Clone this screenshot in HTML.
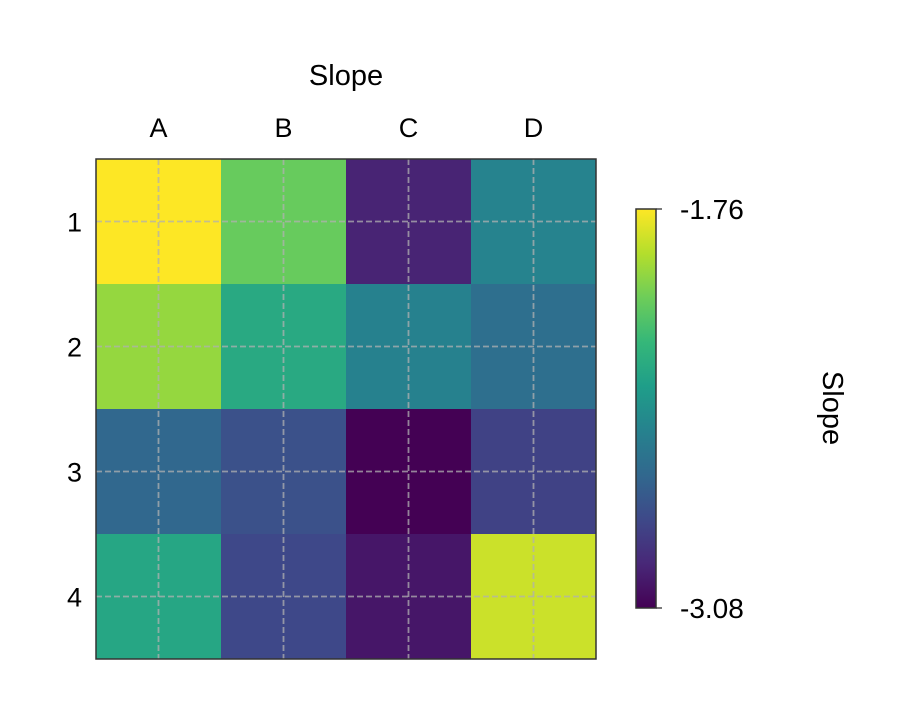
<!DOCTYPE html>
<html><head><meta charset="utf-8"><style>
body{margin:0;background:#fff;}
svg text{font-family:"Liberation Sans",sans-serif;fill:#000;}
</style></head><body>
<svg id="chart" width="910" height="719" xmlns="http://www.w3.org/2000/svg"></svg>
<script>
const cols=["A","B","C","D"];
const rows=["1","2","3","4"];
const values=[
 [-1.76,-2.07,-2.95,-2.49],
 [-1.97,-2.28,-2.50,-2.60],
 [-2.64,-2.75,-3.08,-2.82],
 [-2.30,-2.79,-3.00,-1.86]
];
const vmin=-3.08, vmax=-1.76;
const cbTicks=["-1.76","-3.08"];
const vir=[[68,1,84],[72,40,120],[62,73,137],[49,104,142],[38,130,142],[31,158,137],[53,183,121],[109,205,89],[180,222,44],[253,231,37]];
function cmap(t){t=Math.max(0,Math.min(1,t));const s=t*(vir.length-1),i=Math.min(Math.floor(s),vir.length-2),f=s-i;
 const c=vir[i].map((v,k)=>Math.round(v+(vir[i+1][k]-v)*f));return `rgb(${c})`;}
const NS="http://www.w3.org/2000/svg",svg=document.getElementById('chart');
function el(t,a,txt){const e=document.createElementNS(NS,t);for(const k in a)e.setAttribute(k,a[k]);if(txt!=null)e.textContent=txt;svg.appendChild(e);return e;}
const X0=96,Y0=159,W=500,H=500,cw=W/cols.length,ch=H/rows.length;
const xc=j=>X0+cw*(j+0.5), yc=i=>Y0+ch*(i+0.5);
rows.forEach((r,i)=>cols.forEach((c,j)=>{
 const e=el('rect',{x:X0+cw*j,y:Y0+ch*i,width:cw+0.5,height:ch+0.5,fill:cmap((values[i][j]-vmin)/(vmax-vmin))});
 
 
}));
cols.forEach((c,j)=>{
 const l=el('line',{x1:xc(j),x2:xc(j),y1:Y0,y2:Y0+H,stroke:'#b0b0b0','stroke-opacity':0.75,'stroke-dasharray':'6,3','stroke-width':1.8});
 
 
 const t=el('text',{x:xc(j),y:137,'font-size':27,'text-anchor':'middle'},c);
 
 
});
rows.forEach((r,i)=>{
 const l=el('line',{x1:X0,x2:X0+W,y1:yc(i),y2:yc(i),stroke:'#b0b0b0','stroke-opacity':0.75,'stroke-dasharray':'6,3','stroke-width':1.8});
 
 
 const t=el('text',{x:82,y:yc(i)+10,'font-size':27,'text-anchor':'end'},r);
 
 
});
const fr=el('rect',{x:X0,y:Y0,width:W,height:H,fill:'none',stroke:'#333','stroke-width':1.5});


const tt=el('text',{x:346,y:85,'font-size':29,'text-anchor':'middle'},'Slope');


const CX=636,CY=209,CW=20,CH=399;
const defs=el('defs',{});const g=document.createElementNS(NS,'linearGradient');
g.setAttribute('id','vg');g.setAttribute('x1',0);g.setAttribute('y1',1);g.setAttribute('x2',0);g.setAttribute('y2',0);defs.appendChild(g);
vir.forEach((c,k)=>{const s=document.createElementNS(NS,'stop');s.setAttribute('offset',k/(vir.length-1));s.setAttribute('stop-color',`rgb(${c})`);g.appendChild(s);});
const cb=el('rect',{x:CX,y:CY,width:CW,height:CH,fill:'url(#vg)',stroke:'#333','stroke-width':1.5});


cbTicks.forEach(s=>{const v=parseFloat(s);const y=CY+CH*(vmax-v)/(vmax-vmin);
 const l=el('line',{x1:CX+CW,x2:CX+CW+6,y1:y,y2:y,stroke:'#333','stroke-width':1.3});
 
 
 const t=el('text',{x:680,y:y+10,'font-size':28},s);
 
 
});
const ct=el('text',{x:0,y:0,'font-size':29,'text-anchor':'middle',transform:'translate(823,408) rotate(90)'},'Slope');


</script>
</body></html>
